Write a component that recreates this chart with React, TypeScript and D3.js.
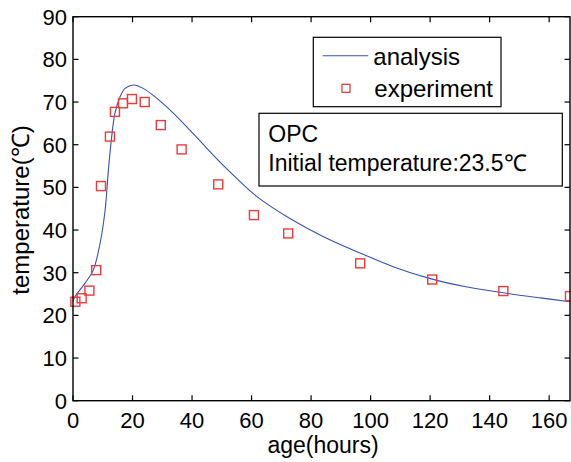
import React from "react";
import * as d3 from "d3";

const expX = [0.8, 2.9, 5.5, 7.8, 9.4, 12.4, 14.1, 16.8, 19.8, 24.1, 29.5, 36.5, 48.8, 60.8, 72.3, 96.5, 120.7, 144.6, 167];
const expY = [23.2, 24, 25.8, 30.6, 50.3, 61.9, 67.7, 69.7, 70.7, 70, 64.6, 58.9, 50.7, 43.5, 39.2, 32.2, 28.4, 25.7, 24.5];

const anaX = [0, 0.7, 4, 6.8, 9.1, 10.8, 11.9, 13, 14.1, 15.8, 17.5, 20.3, 23.6, 28.1, 33.7, 39.3, 44.9, 49.4, 55, 61.7, 72.9, 84, 96.5, 108, 120.7, 132, 144.6, 157, 167];
const anaY = [23.3, 24.4, 27.5, 30.6, 36.9, 44.7, 54.1, 61.9, 67.4, 71.2, 73.2, 74, 73.2, 70.9, 67.4, 63.4, 59.2, 55.9, 52.1, 47.9, 42.7, 38.5, 34.6, 31.3, 28.5, 26.7, 25.3, 24.1, 23.2];

const xTicks = [0, 20, 40, 60, 80, 100, 120, 140, 160];
const yTicks = [0, 10, 20, 30, 40, 50, 60, 70, 80, 90];

const W = 571, H = 462;
const left = 73, right = 570, top = 16.7, bottom = 400.7;
const font = "'Liberation Sans', Arial, sans-serif";

export default function App() {
  const x = d3.scaleLinear().domain([0, 167]).range([left, right]);
  const y = d3.scaleLinear().domain([0, 90]).range([bottom, top]);
  const line = d3.line<number>().x((d, i) => x(anaX[i])).y((d, i) => y(anaY[i])).curve(d3.curveCatmullRom.alpha(0.5));
  const tl = 5.5;
  const ms = 9;
  return (
    <svg width={W} height={H} style={{ position: "absolute", left: 0, top: 0, background: "#fff" }} fontFamily={font}>
      <rect x={0} y={0} width={W} height={H} fill="#fff" />
      <path d={line(anaY) || ""} fill="none" stroke="#3552b5" strokeWidth={1.1} />
      {expX.map((v, i) => (
        <rect key={i} x={x(v) - ms / 2} y={y(expY[i]) - ms / 2} width={ms} height={ms} fill="none" stroke="#f03a3a" strokeWidth={1.4} />
      ))}
      <rect x={left} y={top} width={right - left} height={bottom - top} fill="none" stroke="#000" strokeWidth={1.4} />
      {xTicks.map((t) => (
        <g key={"x" + t}>
          <line x1={x(t)} x2={x(t)} y1={bottom} y2={bottom - tl} stroke="#000" strokeWidth={1.2} />
          <line x1={x(t)} x2={x(t)} y1={top} y2={top + tl} stroke="#000" strokeWidth={1.2} />
          <text x={x(t)} y={bottom + 27.6} fontSize={22} textAnchor="middle" fill="#000">{t}</text>
        </g>
      ))}
      {yTicks.map((t) => (
        <g key={"y" + t}>
          <line x1={left} x2={left + tl} y1={y(t)} y2={y(t)} stroke="#000" strokeWidth={1.2} />
          <line x1={right} x2={right - tl} y1={y(t)} y2={y(t)} stroke="#000" strokeWidth={1.2} />
          <text x={left - 6} y={y(t) + 8} fontSize={22} textAnchor="end" fill="#000">{t}</text>
        </g>
      ))}
      <text x={323} y={453} fontSize={23} textAnchor="middle" fill="#000">age(hours)</text>
      <text transform={`translate(29,210) rotate(-90)`} fontSize={24} textAnchor="middle" fill="#000">temperature(℃)</text>
      <rect x={313.3} y={37.3} width={187.7} height={69.4} fill="#fff" stroke="#000" strokeWidth={1.2} />
      <line x1={322.7} x2={368.3} y1={55.7} y2={55.7} stroke="#3552b5" strokeWidth={1.1} />
      <text x={373.3} y={64.5} fontSize={24} fill="#000">analysis</text>
      <rect x={346 - 4} y={88.3 - 4} width={8} height={8} fill="none" stroke="#f03a3a" strokeWidth={1.3} />
      <text x={374.3} y={97} fontSize={24} fill="#000">experiment</text>
      <rect x={259} y={113.3} width={303.3} height={72.7} fill="#fff" stroke="#000" strokeWidth={1.2} />
      <text x={268.3} y={142} fontSize={23} fill="#000">OPC</text>
      <text x={268.3} y={171} fontSize={23} fill="#000">Initial temperature:23.5℃</text>
    </svg>
  );
}
